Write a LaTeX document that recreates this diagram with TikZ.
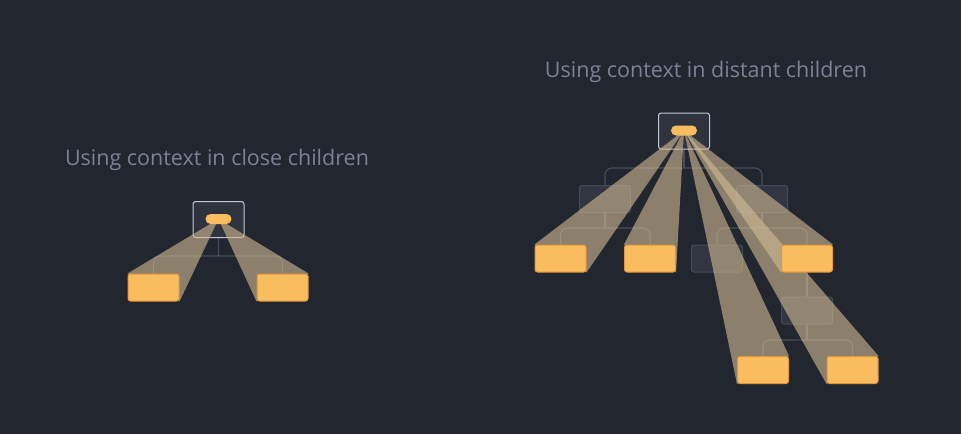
\documentclass[tikz,border=0pt]{standalone}
\usepackage{fontspec}
\setmainfont{Open Sans}
\usetikzlibrary{calc}
\pgfdeclarelayer{back}
\pgfdeclarelayer{beams}
\pgfdeclarelayer{front}
\pgfsetlayers{back,main,beams,front}
\definecolor{bg}{HTML}{22262F}
\definecolor{titlec}{HTML}{7C8296}
\definecolor{rootfill}{HTML}{2F333E}
\definecolor{rootline}{HTML}{C5C9D3}
\definecolor{orangefill}{HTML}{F9BC5F}
\definecolor{orangeline}{HTML}{E3963A}
\definecolor{grayfill}{HTML}{323642}
\definecolor{grayline}{HTML}{454A5A}
\definecolor{connc}{HTML}{484D5D}
\definecolor{beamc}{HTML}{D3BC95}
\tikzset{
  titletext/.style={text=titlec, font=\fontsize{21.5}{25}\selectfont, inner sep=0pt},
  rootbox/.style={draw=rootline, fill=rootfill, line width=1pt, rounded corners=2.5pt, minimum width=51pt, minimum height=36pt, inner sep=0pt},
  pill/.style={fill=orangefill, rounded corners=5pt, minimum width=26pt, minimum height=10pt, inner sep=0pt},
  childbox/.style={draw=orangeline, fill=orangefill, line width=1pt, rounded corners=2.5pt, minimum width=51pt, minimum height=27pt, inner sep=0pt},
  graybox/.style={draw=grayline, fill=grayfill, line width=1pt, rounded corners=2.5pt, minimum width=51pt, minimum height=27pt, inner sep=0pt},
  conn/.style={draw=connc, line width=1.1pt, rounded corners=7pt},
  beam/.style={fill=beamc, fill opacity=0.6},
}
\begin{document}
\begin{tikzpicture}[x=1pt,y=-1pt]
\useasboundingbox (0,0) rectangle (961,434);
\begin{pgfonlayer}{back}
\fill[bg] (0,0) rectangle (961,434);
\end{pgfonlayer}

% titles
\node[titletext] (t1) at (217,159.5) {Using context in close children};
\node[titletext] (t2) at (706,71.5) {Using context in distant children};

% ---------- left diagram ----------
\coordinate (lj) at (218.5,256);
\coordinate (la) at (218.5,219);
\node[rootbox] (lr) at (218.5,219.5) {};

% ---------- right diagram ----------
\coordinate (j0) at (684,168);
\coordinate (j1) at (605,228);
\coordinate (j2) at (762,228);
\coordinate (j3) at (807,340);
\coordinate (ra) at (684,130.5);
\node[rootbox] (rr) at (684,131) {};
\node[graybox] (g1) at (605,199) {};
\node[graybox] (g2) at (762,199) {};
\node[graybox] (g3) at (717,258.5) {};
\node[graybox] (g4) at (807,310.5) {};

\begin{pgfonlayer}{front}
\node[pill] (lp) at (la) {};
\node[pill] (rp) at (ra) {};
\node[childbox] (lc1) at (153.5,287.5) {};
\node[childbox] (lc2) at (282.5,287.5) {};
\node[childbox] (ca) at (560.5,258.5) {};
\node[childbox] (cb) at (650,258.5) {};
\node[childbox] (cd) at (807,258.5) {};
\node[childbox] (cf) at (763,370) {};
\node[childbox] (cg) at (852.5,370) {};
\end{pgfonlayer}

% connectors
\begin{pgfonlayer}{back}
\draw[conn] (lr.south) -- (lj);
\draw[conn] (lc1.north) |- (lj) -| (lc2.north);
\draw[conn] (rr.south) -- (j0);
\draw[conn] (g1.north) |- (j0) -| (g2.north);
\draw[conn] (g1.south) -- (j1);
\draw[conn] (ca.north) |- (j1) -| (cb.north);
\draw[conn] (g2.south) -- (j2);
\draw[conn] (g3.north) |- (j2) -| (cd.north);
\draw[conn] (cd.south) -- (g4.north);
\draw[conn] (g4.south) -- (j3);
\draw[conn] (cf.north) |- (j3) -| (cg.north);
\end{pgfonlayer}

% beams
\begin{pgfonlayer}{beams}
\fill[beam] (la) -- (lc1.north west) -- (lc1.south east) -- cycle;
\fill[beam] (la) -- (lc2.south west) -- (lc2.north east) -- cycle;
\fill[beam] (ra) -- (ca.north west) -- (ca.south east) -- cycle;
\fill[beam] (ra) -- (cb.north west) -- (cb.south east) -- cycle;
\fill[beam] (ra) -- (cd.south west) -- (cd.north east) -- cycle;
\fill[beam] (ra) -- (cf.south west) -- (cf.north east) -- cycle;
\fill[beam] (ra) -- (cg.south west) -- (cg.north east) -- cycle;
\end{pgfonlayer}
\end{tikzpicture}
\end{document}
